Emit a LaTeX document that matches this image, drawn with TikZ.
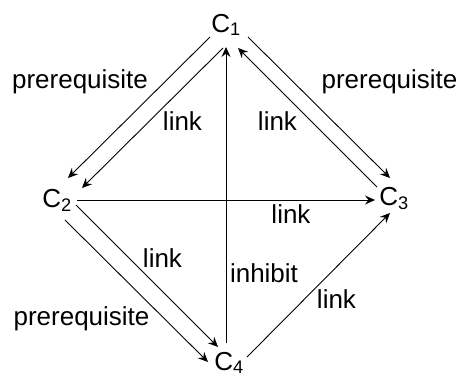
\documentclass[tikz,border=0pt]{standalone}
\usepackage{fontspec}
\setmainfont{Liberation Sans}
\usetikzlibrary{arrows.meta,calc}
\begin{document}
\begin{tikzpicture}[x=1pt,y=-1pt,
  txt/.style={font=\fontsize{26}{30}\selectfont,inner sep=0pt,anchor=base},
  conn/.style={line width=0.9pt,-{Stealth[length=10pt,width=9pt,inset=3.5pt]}}]
\useasboundingbox (0,0) rectangle (460,378);
% concept nodes
\node[txt] (c1) at (226,32) {C\textsubscript{1}};
\node[txt] (c2) at (57,207) {C\textsubscript{2}};
\node[txt] (c3) at (394,205) {C\textsubscript{3}};
\node[txt] (c4) at (229,370) {C\textsubscript{4}};
% connectors
\draw[conn] ($(c1.base)+(-16,5)$) -- ($(c2.base)+(11,-29)$);
\draw[conn] ($(c1.base)+(-3,16)$) -- ($(c2.base)+(25,-19)$);
\draw[conn] ($(c1.base)+(22,5)$) -- ($(c3.base)+(-4,-27)$);
\draw[conn] ($(c3.base)+(-17,-18)$) -- ($(c1.base)+(12,16)$);
\draw[conn] ($(c4.base)+(-3,-27)$) -- ($(c1.base)+(0,15)$);
\draw[conn] ($(c2.base)+(20,-7)$) -- ($(c3.base)+(-19,-5)$);
\draw[conn] ($(c2.base)+(19,-2)$) -- ($(c4.base)+(-11,-23)$);
\draw[conn] ($(c2.base)+(8,13)$) -- ($(c4.base)+(-21,-8)$);
\draw[conn] ($(c4.base)+(18,-13)$) -- ($(c3.base)+(-4,8)$);
% labels
\node[txt] (l12p) at (80,88) {prerequisite};
\node[txt] (l13p) at (389.5,88) {prerequisite};
\node[txt] (l24p) at (81.5,325) {prerequisite};
\node[txt] (l12l) at (182.5,130) {link};
\node[txt] (l31l) at (277.5,130) {link};
\node[txt] (l23l) at (291,223) {link};
\node[txt] (l24l) at (162.5,267) {link};
\node[txt] (l41i) at (264,282) {inhibit};
\node[txt] (l43l) at (336.5,308) {link};
\end{tikzpicture}
\end{document}
